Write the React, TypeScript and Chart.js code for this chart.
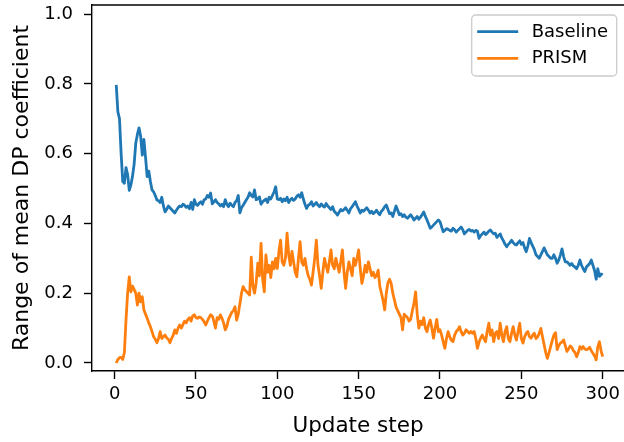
import { useEffect, useRef } from "react";
import { Chart, registerables } from "chart.js";

Chart.register(...registerables);

// Range of the mean DP coefficient per update step (steps 1..300)
const BASELINE = [
  0.797, 0.72, 0.70, 0.60, 0.52, 0.515, 0.56, 0.54, 0.495, 0.51,
  0.535, 0.57, 0.63, 0.655, 0.674, 0.65, 0.596, 0.641, 0.59, 0.534,
  0.55, 0.52, 0.496, 0.49, 0.48, 0.467, 0.465, 0.46, 0.475, 0.45,
  0.433, 0.44, 0.45, 0.445, 0.44, 0.435, 0.43, 0.438, 0.445, 0.45,
  0.448, 0.455, 0.452, 0.446, 0.45, 0.442, 0.46, 0.44, 0.468, 0.455,
  0.452, 0.458, 0.462, 0.455, 0.468, 0.47, 0.48, 0.475, 0.487, 0.456,
  0.462, 0.468, 0.46, 0.456, 0.45, 0.455, 0.448, 0.468, 0.455, 0.448,
  0.458, 0.452, 0.448, 0.46, 0.465, 0.48, 0.43, 0.445, 0.452, 0.46,
  0.468, 0.475, 0.488, 0.48, 0.476, 0.496, 0.468, 0.47, 0.476, 0.455,
  0.462, 0.466, 0.47, 0.46, 0.475, 0.47, 0.48, 0.49, 0.505, 0.47,
  0.468, 0.472, 0.462, 0.47, 0.465, 0.475, 0.46, 0.468, 0.472, 0.466,
  0.47, 0.478, 0.482, 0.475, 0.488, 0.47, 0.455, 0.443, 0.452, 0.455,
  0.462, 0.45, 0.455, 0.46, 0.452, 0.448, 0.456, 0.45, 0.447, 0.457,
  0.45, 0.445, 0.44, 0.448, 0.435, 0.43, 0.424, 0.432, 0.44, 0.436,
  0.44, 0.445, 0.438, 0.43, 0.442, 0.448, 0.455, 0.462, 0.45, 0.44,
  0.43, 0.438, 0.435, 0.44, 0.445, 0.438, 0.43, 0.435, 0.428, 0.432,
  0.438, 0.43, 0.425, 0.435, 0.44, 0.448, 0.453, 0.44, 0.428, 0.43,
  0.42, 0.435, 0.45, 0.438, 0.425, 0.428, 0.42, 0.425, 0.418, 0.415,
  0.42, 0.425, 0.418, 0.41, 0.415, 0.42, 0.412, 0.418, 0.425, 0.433,
  0.42, 0.41, 0.398, 0.386, 0.39, 0.395, 0.40, 0.405, 0.41, 0.405,
  0.39, 0.376, 0.38, 0.385, 0.383, 0.38, 0.378, 0.386, 0.382, 0.375,
  0.38, 0.385, 0.39, 0.382, 0.37, 0.375, 0.38, 0.383, 0.378, 0.38,
  0.375, 0.38, 0.378, 0.357, 0.365, 0.37, 0.375, 0.368, 0.372, 0.378,
  0.381, 0.375, 0.37, 0.372, 0.36, 0.365, 0.37, 0.358, 0.35, 0.34,
  0.333, 0.34, 0.345, 0.352, 0.345, 0.34, 0.338, 0.345, 0.35, 0.34,
  0.345, 0.33, 0.319, 0.335, 0.357, 0.345, 0.335, 0.325, 0.31, 0.305,
  0.30, 0.31, 0.32, 0.33, 0.32, 0.31, 0.305, 0.30, 0.30, 0.31,
  0.30, 0.286, 0.295, 0.31, 0.327, 0.305, 0.29, 0.29, 0.285, 0.28,
  0.285, 0.278, 0.275, 0.27, 0.28, 0.295, 0.28, 0.27, 0.262, 0.275,
  0.28, 0.285, 0.295, 0.28, 0.265, 0.24, 0.27, 0.248, 0.255, 0.252,
];

const PRISM = [
  0.0, 0.01, 0.015, 0.016, 0.01, 0.03, 0.123, 0.20, 0.247, 0.204,
  0.22, 0.21, 0.20, 0.166, 0.20, 0.175, 0.19, 0.152, 0.14, 0.128,
  0.115, 0.104, 0.09, 0.075, 0.068, 0.058, 0.07, 0.09, 0.07, 0.075,
  0.08, 0.072, 0.068, 0.058, 0.07, 0.08, 0.095, 0.085, 0.10, 0.109,
  0.10, 0.11, 0.12, 0.115, 0.125, 0.13, 0.12, 0.135, 0.138, 0.13,
  0.128, 0.132, 0.13, 0.125, 0.118, 0.109, 0.12, 0.13, 0.138, 0.135,
  0.12, 0.10, 0.13, 0.125, 0.138, 0.128, 0.115, 0.095, 0.105, 0.125,
  0.135, 0.145, 0.15, 0.161, 0.123, 0.14, 0.17, 0.20, 0.219, 0.21,
  0.205, 0.20, 0.195, 0.303, 0.22, 0.20, 0.23, 0.286, 0.25, 0.343,
  0.24, 0.204, 0.31, 0.26, 0.28, 0.245, 0.29, 0.27, 0.30, 0.271,
  0.32, 0.352, 0.29, 0.28, 0.30, 0.372, 0.31, 0.28, 0.32, 0.29,
  0.26, 0.247, 0.30, 0.348, 0.29, 0.28, 0.30, 0.27, 0.25, 0.24,
  0.223, 0.26, 0.30, 0.352, 0.28, 0.25, 0.214, 0.26, 0.30, 0.28,
  0.26, 0.29, 0.324, 0.28, 0.27, 0.30, 0.28, 0.26, 0.29, 0.324,
  0.26, 0.214, 0.26, 0.29, 0.27, 0.25, 0.30, 0.28, 0.30, 0.324,
  0.27, 0.228, 0.25, 0.28, 0.26, 0.29, 0.27, 0.25, 0.26, 0.245,
  0.25, 0.266, 0.22, 0.20, 0.18, 0.152, 0.20, 0.23, 0.24, 0.228,
  0.20, 0.18, 0.16, 0.15, 0.14, 0.13, 0.095, 0.14, 0.135, 0.13,
  0.12, 0.125, 0.15, 0.17, 0.204, 0.14, 0.10, 0.12, 0.11, 0.13,
  0.10, 0.09, 0.11, 0.123, 0.10, 0.071, 0.10, 0.125, 0.09, 0.095,
  0.08, 0.06, 0.042, 0.07, 0.09, 0.075, 0.065, 0.061, 0.08, 0.09,
  0.095, 0.104, 0.09, 0.08, 0.085, 0.095, 0.09, 0.085, 0.09, 0.085,
  0.09, 0.07, 0.042, 0.06, 0.071, 0.08, 0.07, 0.061, 0.09, 0.114,
  0.08, 0.095, 0.061, 0.085, 0.09, 0.07, 0.114, 0.08, 0.061, 0.09,
  0.104, 0.07, 0.061, 0.085, 0.104, 0.08, 0.066, 0.09, 0.114, 0.07,
  0.057, 0.075, 0.085, 0.09, 0.075, 0.071, 0.08, 0.085, 0.07, 0.075,
  0.085, 0.099, 0.075, 0.052, 0.03, 0.013, 0.03, 0.047, 0.065, 0.08,
  0.087, 0.038, 0.05, 0.057, 0.06, 0.066, 0.05, 0.033, 0.04, 0.049,
  0.045, 0.035, 0.03, 0.018, 0.03, 0.047, 0.04, 0.047, 0.04, 0.038,
  0.04, 0.045, 0.035, 0.028, 0.02, 0.009, 0.047, 0.061, 0.035, 0.018,
];

const SERIES_LABELS = ["Baseline", "PRISM"];
const SERIES_COLORS = ["#1f77b4", "#ff7f0e"];
const X_TICKS = [0, 50, 100, 150, 200, 250, 300];
const Y_TICKS = [0, 0.2, 0.4, 0.6, 0.8, 1.0];
const X_TITLE = "Update step";
const Y_TITLE = "Range of mean DP coefficient";

const FONT = "'DejaVu Sans', sans-serif";
const SPINE = 1.4;

const toPoints = (vals: number[]) => vals.map((v, i) => ({ x: i + 1, y: v }));

// keep the plot area fixed: no extra room reserved for edge tick labels
const noEdgePadding = (s: any) => {
  s.paddingTop = 0;
  s.paddingBottom = 0;
  s.paddingLeft = 0;
  s.paddingRight = 0;
};

// top spine (the bottom and left ones come from the scale borders)
const topSpine = {
  id: "topSpine",
  afterDraw(chart: any) {
    const { ctx, chartArea } = chart;
    ctx.save();
    ctx.strokeStyle = "#000";
    ctx.lineWidth = SPINE;
    ctx.beginPath();
    ctx.moveTo(chartArea.left - SPINE / 2, chartArea.top);
    ctx.lineTo(chartArea.right, chartArea.top);
    ctx.stroke();
    ctx.restore();
  },
};

// framed legend in the upper-right corner of the plot
const boxLegend = {
  id: "boxLegend",
  afterDraw(chart: any) {
    const { ctx, chartArea } = chart;
    const w = 145;
    const h = 61;
    const x = chartArea.right - 7.3 - w;
    const y = chartArea.top + 10;
    ctx.save();
    ctx.fillStyle = "rgba(255,255,255,0.8)";
    ctx.strokeStyle = "#cccccc";
    ctx.lineWidth = 1.3;
    ctx.beginPath();
    ctx.roundRect(x, y, w, h, 4);
    ctx.fill();
    ctx.stroke();
    ctx.font = `18px ${FONT}`;
    ctx.textBaseline = "middle";
    ctx.textAlign = "left";
    chart.data.datasets.forEach((ds: any, i: number) => {
      const ly = y + 16.7 + i * 26.6;
      ctx.strokeStyle = ds.borderColor;
      ctx.lineWidth = 2.8;
      ctx.beginPath();
      ctx.moveTo(x + 5.5, ly);
      ctx.lineTo(x + 46.5, ly);
      ctx.stroke();
      ctx.fillStyle = "#000";
      ctx.fillText(ds.label, x + 60, ly + 0.5);
    });
    ctx.restore();
  },
};

export default function App() {
  const ref = useRef<HTMLCanvasElement | null>(null);

  useEffect(() => {
    if (!ref.current) return;
    Chart.defaults.font.family = FONT;
    Chart.defaults.color = "#000";
    const chart = new Chart(ref.current, {
      type: "line",
      data: {
        datasets: [BASELINE, PRISM].map((vals, i) => ({
          label: SERIES_LABELS[i],
          data: toPoints(vals),
          borderColor: SERIES_COLORS[i],
          backgroundColor: SERIES_COLORS[i],
          borderWidth: 2.8,
          pointRadius: 0,
          tension: 0,
          borderJoinStyle: "round" as const,
          fill: false,
        })),
      },
      options: {
        responsive: false,
        animation: false,
        devicePixelRatio: 1,
        layout: { padding: { top: 5, right: 0, bottom: 0, left: 0 } },
        plugins: {
          legend: { display: false },
          tooltip: { enabled: false },
        },
        scales: {
          x: {
            type: "linear",
            min: -13.9,
            max: 313.1,
            afterFit: (s: any) => {
              s.height = 71;
              noEdgePadding(s);
            },
            afterBuildTicks: (s: any) => {
              s.ticks = X_TICKS.map((v) => ({ value: v }));
            },
            ticks: {
              font: { size: 18 },
              color: "#000",
              padding: 5,
              maxRotation: 0,
              callback: (v: any) => String(v),
            },
            grid: {
              display: true,
              drawOnChartArea: false,
              drawTicks: true,
              tickLength: 8,
              tickWidth: SPINE,
              tickColor: "#000",
            },
            border: { display: true, color: "#000", width: SPINE },
            title: {
              display: true,
              text: X_TITLE,
              font: { size: 21.5 },
              color: "#000",
              padding: { top: 0, bottom: 3 },
            },
          },
          y: {
            type: "linear",
            min: -0.023,
            max: 1.026,
            afterFit: (s: any) => {
              s.width = 92;
              noEdgePadding(s);
            },
            afterBuildTicks: (s: any) => {
              s.ticks = Y_TICKS.map((v) => ({ value: v }));
            },
            ticks: {
              font: { size: 18 },
              color: "#000",
              padding: 11,
              callback: (v: any) => Number(v).toFixed(1),
            },
            grid: {
              display: true,
              drawOnChartArea: false,
              drawTicks: true,
              tickLength: 8,
              tickWidth: SPINE,
              tickColor: "#000",
            },
            border: { display: true, color: "#000", width: SPINE },
            title: {
              display: true,
              text: Y_TITLE,
              font: { size: 22 },
              color: "#000",
              padding: { top: 9, bottom: 0 },
            },
          },
        },
      },
      plugins: [topSpine, boxLegend],
    });
    return () => chart.destroy();
  }, []);

  return (
    <div style={{ position: "absolute", left: 0, top: 0, width: 624, height: 442, background: "#fff" }}>
      <canvas ref={ref} width={624} height={442} />
    </div>
  );
}
